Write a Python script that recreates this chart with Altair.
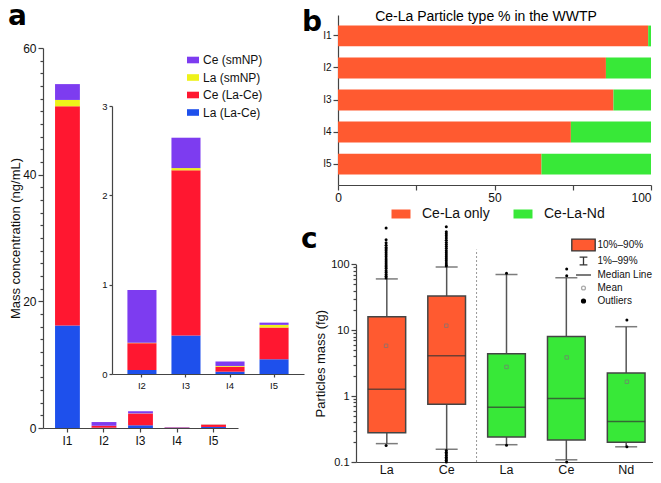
import altair as alt
import pandas as pd

# ---------------- Panel a: stacked mass concentrations ----------------
sites = ["I1", "I2", "I3", "I4", "I5"]
la_lace = [16.2, 0.045, 0.43, 0.026, 0.165]
ce_lace = [34.6, 0.30, 1.85, 0.056, 0.355]
la_smnp = [1.0, 0.006, 0.025, 0.008, 0.03]
ce_smnp = [2.5, 0.59, 0.34, 0.05, 0.025]
series_stack = ["La (La-Ce)", "Ce (La-Ce)", "La (smNP)", "Ce (smNP)"]   # bottom -> top
legend_a = ["Ce (smNP)", "La (smNP)", "Ce (La-Ce)", "La (La-Ce)"]
colors_a = ["#7D3CF0", "#EEF21A", "#FF1730", "#1E50EC"]

# ---------------- Panel b: particle type % ----------------
ce_la_only = [99.1, 85.6, 88.0, 74.4, 65.0]
ce_la_nd = [0.9, 14.4, 12.0, 25.6, 35.0]
types_b = ["Ce-La only", "Ce-La-Nd"]
colors_b = ["#FF5A30", "#38E838"]

# ---------------- Panel c: particle mass box plots ----------------
box_keys = ["La|1", "Ce|1", "La|2", "Ce|2", "Nd|2"]
box_type = ["Ce-La only", "Ce-La only", "Ce-La-Nd", "Ce-La-Nd", "Ce-La-Nd"]
p01 = [0.19, 0.156, 0.183, 0.108, 0.17]
p10 = [0.277, 0.75, 0.24, 0.215, 0.20]
p50 = [1.27, 4.1, 0.68, 0.92, 0.41]
mean = [5.8, 11.7, 2.77, 3.86, 1.65]
p90 = [16.0, 33.0, 4.4, 8.0, 2.25]
p99 = [60.0, 91.0, 70.0, 62.5, 11.3]
out_la1 = [354, 236, 212, 194, 180, 170, 160, 150, 140, 130, 120, 112, 105, 98, 92, 86, 80, 75, 70, 66, 62, 0.178]
out_ce1 = [370, 312, 290, 270, 250, 232, 215, 200, 186, 173, 160, 150, 140, 130, 121, 113, 105, 98, 94,
           0.15, 0.14, 0.133, 0.125, 0.118, 0.112, 0.106, 0.1]
out_la2 = [73, 0.18]
out_ce2 = [85, 67, 0.1]
out_nd2 = [14.3, 0.17]
legend_c = ["10%–90%", "1%–99%", "Median Line", "Mean", "Outliers"]

# ---------------- tables ----------------
rows = []
for i, s in enumerate(sites):
    for k, (name, arr) in enumerate(zip(series_stack, [la_lace, ce_lace, la_smnp, ce_smnp])):
        rows.append({"site": s, "series": name, "k": k, "value": arr[i]})
df_a = pd.DataFrame(rows)
df_inset = df_a[df_a.site != "I1"]

rows = []
for i, s in enumerate(sites):
    rows.append({"site": s, "type": types_b[0], "k": 0, "pct": ce_la_only[i]})
    rows.append({"site": s, "type": types_b[1], "k": 1, "pct": ce_la_nd[i]})
df_b = pd.DataFrame(rows)

df_box = pd.DataFrame({"key": box_keys, "type": box_type, "p01": p01, "p10": p10,
                       "p50": p50, "mean": mean, "p90": p90, "p99": p99})
outs = []
for key, arr in zip(box_keys, [out_la1, out_ce1, out_la2, out_ce2, out_nd2]):
    for v in arr:
        outs.append({"key": key, "v": v})
df_out = pd.DataFrame(outs)
df_leg = pd.DataFrame({"item": legend_c})

W, H = 645, 467
FONT = "Liberation Sans"
C_AXIS = 454   # panel c x-axis position

# ---------------- scales ----------------
sx_a = alt.Scale(domain=sites, range=[35, 230], paddingInner=0.32, paddingOuter=0.33)
sy_a = alt.Scale(domain=[0, 60], range=[420, 40], nice=False, zero=True)
sx_i = alt.Scale(domain=sites[1:], range=[104, 296], paddingInner=0.34, paddingOuter=0.35)
sy_i = alt.Scale(domain=[0, 3], range=[366, 98], nice=False)
sx_b = alt.Scale(domain=[0, 100], range=[330, 643], nice=False)
sy_b = alt.Scale(domain=sites, range=[7, 177], paddingInner=0.35, paddingOuter=0.33)
sx_c = alt.Scale(domain=box_keys, range=[348, 649], paddingInner=0.37, paddingOuter=0.2)
sy_c = alt.Scale(type="log", domain=[0.1, 100], range=[C_AXIS, 256.3], nice=False)

log_ticks = []
for dec in [0.1, 1, 10]:
    for m in range(1, 10):
        log_ticks.append(round(dec * m, 3))
log_ticks.append(100)

# ---------------- panel a ----------------
main_a = alt.Chart(df_a).mark_bar().encode(
    x=alt.X("site:N", scale=sx_a,
            axis=alt.Axis(orient="bottom", offset=-(H - 420), labelFontSize=12, tickSize=4,
                          labelPadding=3, labelAngle=0, title=None)),
    y=alt.Y("value:Q", stack="zero", scale=sy_a,
            axis=alt.Axis(orient="left", offset=-35, values=list(range(0, 61, 2)),
                          labelExpr="datum.value % 20 === 0 ? datum.label : ''",
                          tickSize={"condition": {"test": "datum.value % 20 === 0", "value": 5}, "value": 3},
                          labelFontSize=12, title="Mass concentration (ng/mL)", titleFontSize=13,
                          titleFontWeight="normal", titlePadding=0)),
    color=alt.Color("series:N", scale=alt.Scale(domain=legend_a, range=colors_a),
                    legend=alt.Legend(orient="none", legendX=179, legendY=46, title=None,
                                      labelFontSize=12, symbolType="M-1,-0.55H1V0.55H-1Z",
                                      symbolSize=144, symbolStrokeWidth=0, rowPadding=5.5,
                                      labelOffset=4)),
    order=alt.Order("k:Q"),
)

inset_a = alt.Chart(df_inset).mark_bar().encode(
    x=alt.X("site:N", scale=sx_i,
            axis=alt.Axis(orient="bottom", offset=-(H - 366), labelFontSize=9.5, tickSize=3,
                          labelPadding=3, labelAngle=0, title=None)),
    y=alt.Y("value:Q", stack="zero", scale=sy_i,
            axis=alt.Axis(orient="left", offset=-104, values=[0, 1, 2, 3], labelFontSize=9.5,
                          tickSize=3, title=None)),
    color=alt.Color("series:N", scale=alt.Scale(domain=legend_a, range=colors_a), legend=None),
    order=alt.Order("k:Q"),
)

# ---------------- panel b ----------------
bars_b = alt.Chart(df_b).mark_bar().encode(
    x=alt.X("pct:Q", stack="zero", scale=sx_b,
            axis=alt.Axis(orient="bottom", offset=-(H - 177), values=[0, 25, 50, 75, 100],
                          labelExpr="datum.value % 50 === 0 ? datum.label : ''", labelFlush=False,
                          labelAlign={"condition": {"test": "datum.value === 100", "value": "right"},
                                      "value": "center"},
                          labelFontSize=12, tickSize=5, title=None)),
    y=alt.Y("site:N", scale=sy_b,
            axis=alt.Axis(orient="left", offset=-330, labelFontSize=10, tickSize=5, title=None)),
    color=alt.Color("type:N", scale=alt.Scale(domain=types_b, range=colors_b),
                    legend=alt.Legend(orient="none", legendX=386, legendY=199, direction="horizontal",
                                      title=None, labelFontSize=14, symbolType="M-1.9,-0.9H1.9V0.9H-1.9Z",
                                      symbolSize=100, symbolStrokeWidth=0, labelOffset=14,
                                      columnPadding=23)),
    order=alt.Order("k:Q"),
)

# ---------------- panel c ----------------
def xc(axis=False):
    if axis:
        return alt.X("key:N", scale=sx_c,
                     axis=alt.Axis(orient="bottom", offset=-(H - C_AXIS), labelExpr="split(datum.label,'|')[0]",
                                   ticks=False, labelPadding=1, labelFontSize=12.5, labelAngle=0, title=None))
    return alt.X("key:N", scale=sx_c, axis=None)

def yc(field, axis=False):
    if axis:
        return alt.Y(field, type="quantitative", scale=sy_c,
                     axis=alt.Axis(orient="left", offset=-348, values=log_ticks, format="~g",
                                   labelExpr="indexof([0.1,1,10,100], datum.value) >= 0 ? datum.label : ''",
                                   tickSize={"condition": {"test": "indexof([0.1,1,10,100], datum.value) >= 0", "value": 5}, "value": 3},
                                   labelFontSize=11, title="Particles mass (fg)", titleFontSize=13,
                                   titleFontWeight="normal", titlePadding=3))
    return alt.Y(field, type="quantitative", scale=sy_c, axis=None)

whisk = alt.Chart(df_box).mark_rule(color="#555555", strokeWidth=1.5).encode(
    x=xc(True), y=yc("p01", True), y2="p99:Q")
cap_lo = alt.Chart(df_box).mark_tick(color="#444444", thickness=1.5, size=22).encode(x=xc(), y=yc("p01"))
cap_hi = alt.Chart(df_box).mark_tick(color="#444444", thickness=1.5, size=22).encode(x=xc(), y=yc("p99"))
box = alt.Chart(df_box).mark_bar(stroke="#444444", strokeWidth=1.5).encode(
    x=xc(), y=yc("p10"), y2="p90:Q",
    fill=alt.Fill("type:N", scale=alt.Scale(domain=types_b, range=colors_b), legend=None))
med = alt.Chart(df_box).mark_tick(color="#333333", thickness=1.5, size=38).encode(x=xc(), y=yc("p50"))
mn = alt.Chart(df_box).mark_point(shape="square", size=12, filled=False, color="#777777", strokeWidth=1).encode(
    x=xc(), y=yc("mean"))
outl = alt.Chart(df_out).mark_circle(size=9, color="#000000", opacity=1).encode(x=xc(), y=yc("v"))
sep = alt.Chart(pd.DataFrame({"d": [0]})).mark_rule(color="#999999", strokeDash=[2, 2], strokeWidth=1,
                                                      xOffset=-11.1).encode(
    x=alt.X(datum="La|2", type="nominal", scale=sx_c, axis=None, bandPosition=0),
    y=alt.Y(datum=0.1, type="quantitative", scale=sy_c, axis=None),
    y2=alt.Y2(datum=167))

leg_props = dict(orient="none", legendX=568, legendY=229.5, title=None, labelFontSize=10,
                 symbolSize=169, symbolOpacity=1, labelOffset=6.5, rowPadding=0, symbolStrokeWidth=1.3)
leg_c = alt.Chart(df_leg).mark_point(opacity=0).encode(
    shape=alt.Shape("item:N", scale=alt.Scale(domain=legend_c, range=[
        "M-1.8,-0.9H1.8V0.9H-1.8Z",
        "M-0.6,-0.6H0.6M0,-0.6V0.6M-0.6,0.6H0.6",
        "M-1.15,0H1.15",
        "M0.3,0A0.3,0.3,0,1,1,-0.3,0A0.3,0.3,0,1,1,0.3,0Z",
        "M0.3,0A0.3,0.3,0,1,1,-0.3,0A0.3,0.3,0,1,1,0.3,0Z"]),
        legend=alt.Legend(**leg_props)),
    fill=alt.Fill("item:N", scale=alt.Scale(domain=legend_c, range=[
        "#FF5A30", "transparent", "transparent", "transparent", "#000000"]),
        legend=alt.Legend(**leg_props)),
    stroke=alt.Stroke("item:N", scale=alt.Scale(domain=legend_c, range=[
        "#333333", "#333333", "#333333", "#AAAAAA", "#000000"]),
        legend=alt.Legend(**leg_props)),
)

# ---------------- annotations ----------------
ann = pd.DataFrame({"t": ["a"]})
LETTER = dict(fontSize=28, fontWeight="bold", font="DejaVu Sans", align="left", baseline="alphabetic")
lab_a = alt.Chart(ann).mark_text(text="a", **LETTER).encode(x=alt.value(0), y=alt.value(17))
lab_b = alt.Chart(ann).mark_text(text="b", **LETTER).encode(x=alt.value(294), y=alt.value(23))
lab_c = alt.Chart(ann).mark_text(text="c", **LETTER).encode(x=alt.value(293), y=alt.value(240))
title_b = alt.Chart(ann).mark_text(text="Ce-La Particle type % in the WWTP", fontSize=14, align="center",
                                   baseline="alphabetic").encode(x=alt.value(478), y=alt.value(13))

chart = alt.layer(
    main_a, inset_a, bars_b, whisk, cap_lo, cap_hi, box, med, mn, outl, sep, leg_c,
    lab_a, lab_b, lab_c, title_b
).resolve_scale(
    x="independent", y="independent", color="independent", fill="independent",
    stroke="independent", shape="independent"
).properties(
    width=W, height=H, autosize=alt.AutoSizeParams(type="none"), padding=0
).configure(font=FONT).configure_view(stroke=None).configure_axis(
    grid=False, domainColor="#444444", tickColor="#444444", labelColor="#111111",
    titleColor="#111111", domainWidth=1.2, tickWidth=1.2
).configure_legend(labelColor="#111111", padding=0)

chart.save("out.html", embed_options={"renderer": "svg", "actions": False})
